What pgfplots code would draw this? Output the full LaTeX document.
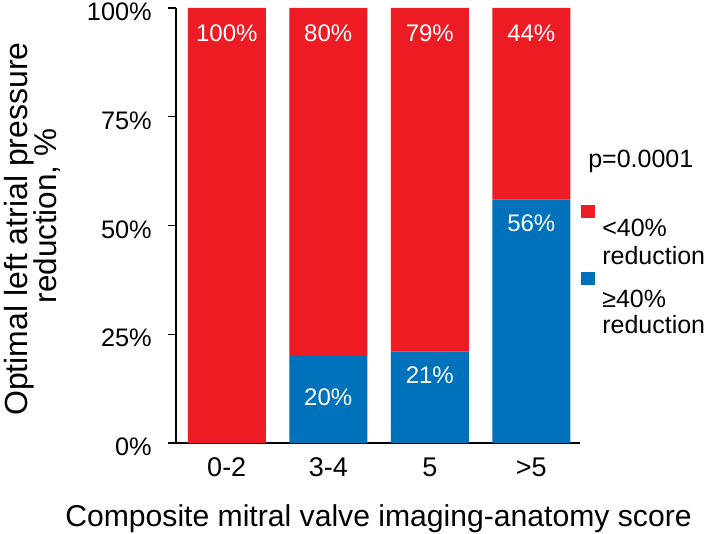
\documentclass[border=0pt]{standalone}
\usepackage{pgfplots}
\pgfplotsset{compat=1.18}
\usepackage{fontspec}
\setmainfont{Liberation Sans}
\definecolor{cred}{RGB}{237,28,36}
\definecolor{cblue}{RGB}{0,114,188}
\newcommand\myfs[1]{\fontsize{#1}{#1}\selectfont}
\tikzset{
  blab/.style={text=white, font=\myfs{18pt}, inner sep=0pt, anchor=center},
  leg/.style={anchor=base west, inner sep=0pt, font=\myfs{18.75pt}},
}
\begin{document}
\begin{tikzpicture}
\path[use as bounding box] (0,0) rectangle (531.75pt,400.5pt);
\begin{axis}[
  at={(132pt,68.25pt)}, anchor=south west,
  scale only axis, width=303pt, height=326.25pt,
  ybar stacked, bar width=58.5pt,
  xmin=-0.5, xmax=3.48, ymin=0, ymax=100,
  axis x line*=bottom, axis y line*=left,
  axis line style={line width=1.1pt, black},
  xtick={0,1,2,3}, xticklabels={\mbox{0-2},\mbox{3-4},\mbox{5},\mbox{>5}},
  ytick={0,25,50,75,100},
  yticklabels={\mbox{0\%},\mbox{25\%},\mbox{50\%},\mbox{75\%},\mbox{100\%}},
  tick style={draw=black, line width=1.1pt},
  xtick style={draw=none},
  tick align=outside, major tick length=6pt,
  xticklabel style={font=\myfs{20.25pt}, inner sep=0pt, anchor=north, yshift=-5pt},
  yticklabel style={font=\myfs{19pt}, inner sep=0pt, anchor=east, xshift=-12pt, yshift=-3pt},
  clip=false,
]
\addplot[fill=cblue, draw=none] coordinates {(0,0) (1,20) (2,21) (3,56)};
\addplot[fill=cred, draw=none] coordinates {(0,100) (1,80) (2,79) (3,44)};
\pgfplotsinvokeforeach{0,25,50,75,100}{
  \draw[black, line width=1.1pt] (axis cs:-0.5,#1) -- ++(-6pt,0pt);
}
\coordinate (r0) at (axis cs:0,100);
\coordinate (r1) at (axis cs:1,100);
\coordinate (r2) at (axis cs:2,100);
\coordinate (r3) at (axis cs:3,100);
\coordinate (b1) at (axis cs:1,20);
\coordinate (b2) at (axis cs:2,21);
\coordinate (b3) at (axis cs:3,56);
\end{axis}
\node[blab] at ([yshift=-19pt]r0) {100\%};
\node[blab] at ([yshift=-19pt]r1) {80\%};
\node[blab] at ([yshift=-19pt]r2) {79\%};
\node[blab] at ([yshift=-19pt]r3) {44\%};
\node[blab] at ([yshift=-31pt]b1) {20\%};
\node[blab] at ([yshift=-17.5pt]b2) {21\%};
\node[blab] at ([yshift=-18pt]b3) {56\%};
\begin{scope}[x=0.75pt,y=-0.75pt,shift={(0pt,400.5pt)}]
\node[anchor=base, rotate=90, inner sep=0pt, font=\myfs{24pt}] at (27,229) {Optimal left atrial pressure};
\node[anchor=base, rotate=90, inner sep=0pt, font=\myfs{23.6pt}] at (56,216) {reduction, \%};
\node[anchor=base, inner sep=0pt, font=\myfs{22.6pt}] at (378.5,527) {Composite mitral valve imaging-anatomy score};
\fill[cred] (581,205) rectangle (595,218);
\fill[cblue] (581,272) rectangle (595,285);
\node[leg] at (588,168) {p=0.0001};
\node[leg] at (602,237) {<40\%};
\node[leg] at (602,265) {reduction};
\node[leg] at (602,308) {≥40\%};
\node[leg] at (602,334) {reduction};
\end{scope}
\end{tikzpicture}
\end{document}
